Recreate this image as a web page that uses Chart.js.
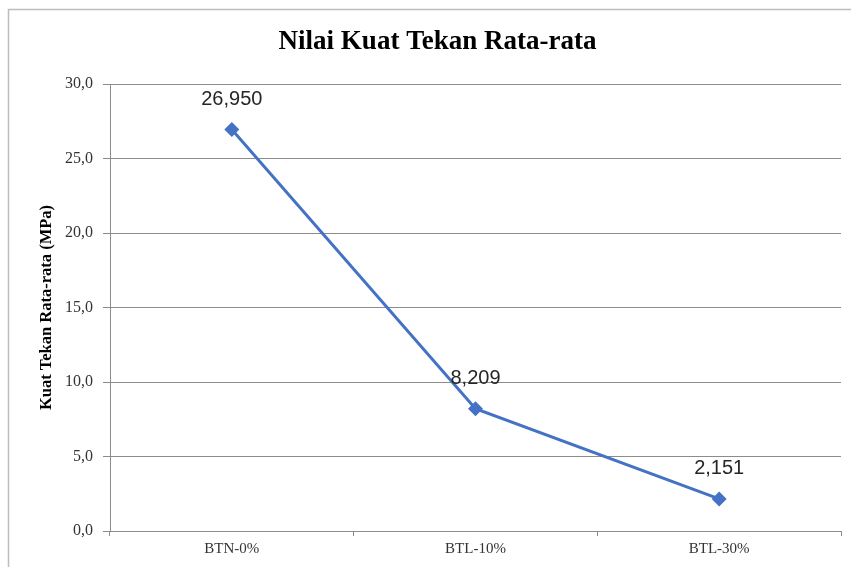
<!DOCTYPE html>
<html>
<head>
<meta charset="utf-8">
<script src="https://cdn.jsdelivr.net/npm/chart.js@4/dist/chart.umd.min.js"></script>
<style>
html,body{margin:0;padding:0;background:#fff;}
#wrap{position:relative;width:851px;height:567px;}
</style>
</head>
<body>
<div id="wrap"><canvas id="c" width="851" height="567"></canvas></div>
<script>
const categories = ["BTN-0%", "BTL-10%", "BTL-30%"];
const values = [26.950, 8.209, 2.151];
const valueLabels = ["26,950", "8,209", "2,151"];
const yTicks = [0, 5, 10, 15, 20, 25, 30];
const chartTitle = "Nilai Kuat Tekan Rata-rata";
const yTitle = "Kuat Tekan Rata-rata (MPa)";

const frame = {
  id: 'frame',
  beforeDraw(chart) {
    const ctx = chart.ctx;
    ctx.save();
    ctx.fillStyle = '#fff';
    ctx.fillRect(0, 0, chart.width, chart.height);
    ctx.strokeStyle = '#bdbdbd';
    ctx.lineWidth = 1.5;
    ctx.beginPath();
    ctx.moveTo(8.5, chart.height);
    ctx.lineTo(8.5, 9.5);
    ctx.lineTo(chart.width, 9.5);
    ctx.stroke();
    ctx.restore();
  }
};

const dataLabels = {
  id: 'dataLabels',
  afterDatasetsDraw(chart) {
    const ctx = chart.ctx;
    const meta = chart.getDatasetMeta(0);
    ctx.save();
    ctx.font = '20px "Liberation Sans", Arial, sans-serif';
    ctx.fillStyle = '#262626';
    ctx.textAlign = 'center';
    ctx.textBaseline = 'middle';
    meta.data.forEach((pt, i) => {
      ctx.fillText(valueLabels[i], pt.x, pt.y - 30);
    });
    ctx.restore();
  }
};

new Chart(document.getElementById('c'), {
  type: 'line',
  data: {
    labels: categories,
    datasets: [{
      data: values,
      borderColor: '#4472C4',
      backgroundColor: '#4472C4',
      borderWidth: 3,
      pointStyle: 'rectRot',
      pointRadius: 7.5,
      pointHoverRadius: 7.5,
      pointBorderWidth: 0,
      tension: 0
    }]
  },
  options: {
    responsive: false,
    animation: false,
    layout: { padding: { top: 0, right: 10, bottom: 0, left: 34 } },
    plugins: {
      legend: { display: false },
      tooltip: { enabled: false },
      title: {
        display: true,
        text: chartTitle,
        color: '#000',
        font: { family: '"Liberation Serif", "Times New Roman", serif', size: 27, weight: 'bold' },
        padding: { top: 26, bottom: 25.6 }
      }
    },
    scales: {
      x: {
        type: 'category',
        offset: true,
        grid: { offset: true, drawOnChartArea: false, drawTicks: true, tickLength: 5, color: '#8c8c8c', tickColor: '#8c8c8c' },
        border: { display: true, color: '#8c8c8c', width: 1 },
        ticks: { color: '#333', padding: 4, font: { family: '"Liberation Serif", "Times New Roman", serif', size: 15 } },
        afterFit(s) { s.height = 36; }
      },
      y: {
        min: 0, max: 30,
        afterBuildTicks(s) { s.ticks = yTicks.map(v => ({ value: v })); },
        grid: { color: '#8c8c8c', tickLength: 7, tickColor: '#8c8c8c' },
        border: { display: true, color: '#8c8c8c', width: 1 },
        ticks: {
          color: '#333', padding: 10,
          font: { family: '"Liberation Serif", "Times New Roman", serif', size: 16 },
          callback: v => v.toFixed(1).replace('.', ',')
        },
        title: {
          display: true, text: yTitle, color: '#000',
          font: { family: '"Liberation Serif", "Times New Roman", serif', size: 16.5, weight: 'bold' },
          padding: { top: 3, bottom: 0 }
        },
        afterFit(s) { s.width = 76; }
      }
    }
  },
  plugins: [frame, dataLabels]
});
</script>
</body>
</html>
